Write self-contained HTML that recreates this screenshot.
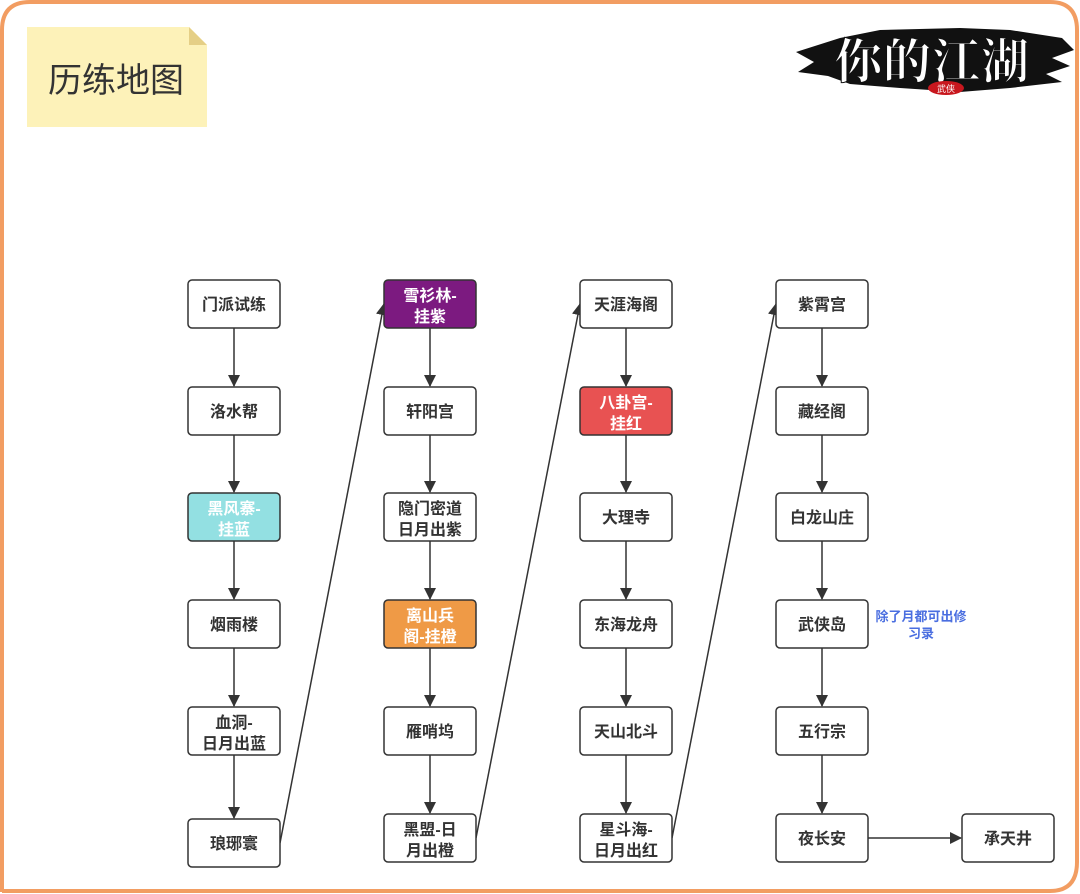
<!DOCTYPE html>
<html><head><meta charset="utf-8"><style>
html,body{margin:0;padding:0;background:#fff;}
body{width:1080px;height:894px;position:relative;overflow:hidden;font-family:"Liberation Sans","Noto Sans CJK SC",sans-serif;}
</style></head><body>
<svg width="1080" height="894" viewBox="0 0 1080 894" xmlns="http://www.w3.org/2000/svg" style="position:absolute;left:0;top:0">
<defs>
<marker id="a" markerWidth="12" markerHeight="12" refX="11" refY="6" orient="auto" markerUnits="userSpaceOnUse">
<path d="M0,0 L12,6 L0,12 z" fill="#333"/>
</marker>
</defs>
<path d="M2,892 L2,30 Q2,2 30,2 L1050,2 Q1077,2 1077,30 L1077,862 Q1077,891 1050,891 L2,891" fill="none" stroke="#f29d62" stroke-width="4"/>
<!-- sticky note -->
<path d="M27,27 L189,27 L207,45 L207,127 L27,127 z" fill="#fdf2b9"/>
<path d="M189,27 L207,45 L189,45 z" fill="#e5cf86"/>
<text x="116" y="92" font-size="34" fill="#333" text-anchor="middle" font-family="Liberation Sans,Noto Sans CJK SC,sans-serif">历练地图</text>
<!-- logo -->
<path d="M796,52 L840,38 L880,30 L960,28 L1010,30 L1062,38 L1074,50 L1052,58 L1070,66 L1046,74 L1062,82 L1010,88 L960,92 L900,88 L850,84 L828,76 L798,72 L814,62 z" fill="#111"/>
<text x="932" y="78" font-size="48" font-weight="bold" fill="#fff" stroke="#111" stroke-width="1" text-anchor="middle" font-family="Noto Serif CJK SC,serif" letter-spacing="1">你的江湖</text>
<ellipse cx="946" cy="88" rx="18" ry="7" fill="#c8171e"/>
<text x="946" y="92" font-size="9" fill="#fff" text-anchor="middle" font-family="Noto Sans CJK SC,sans-serif">武侠</text>
<!-- connectors -->
<g stroke="#333" stroke-width="1.5" marker-end="url(#a)">
<line x1="234" y1="328" x2="234" y2="386"/>
<line x1="234" y1="435" x2="234" y2="492"/>
<line x1="234" y1="541" x2="234" y2="599"/>
<line x1="234" y1="648" x2="234" y2="706"/>
<line x1="234" y1="755" x2="234" y2="818"/>
<line x1="430" y1="328" x2="430" y2="386"/>
<line x1="430" y1="435" x2="430" y2="492"/>
<line x1="430" y1="541" x2="430" y2="599"/>
<line x1="430" y1="648" x2="430" y2="706"/>
<line x1="430" y1="755" x2="430" y2="813"/>
<line x1="626" y1="328" x2="626" y2="386"/>
<line x1="626" y1="435" x2="626" y2="492"/>
<line x1="626" y1="541" x2="626" y2="599"/>
<line x1="626" y1="648" x2="626" y2="706"/>
<line x1="626" y1="755" x2="626" y2="813"/>
<line x1="822" y1="328" x2="822" y2="386"/>
<line x1="822" y1="435" x2="822" y2="492"/>
<line x1="822" y1="541" x2="822" y2="599"/>
<line x1="822" y1="648" x2="822" y2="706"/>
<line x1="822" y1="755" x2="822" y2="813"/>
<line x1="868" y1="838" x2="961" y2="838"/>
<line x1="280" y1="843" x2="384" y2="304"/>
<line x1="476" y1="838" x2="580" y2="304"/>
<line x1="672" y1="838" x2="776" y2="304"/>
</g>
<!-- nodes -->
<g stroke="#333" stroke-width="1.5">
<rect x="188" y="280" width="92" height="48" rx="4" fill="#fff"/>
<rect x="188" y="387" width="92" height="48" rx="4" fill="#fff"/>
<rect x="188" y="493" width="92" height="48" rx="4" fill="#93e0e2"/>
<rect x="188" y="600" width="92" height="48" rx="4" fill="#fff"/>
<rect x="188" y="707" width="92" height="48" rx="4" fill="#fff"/>
<rect x="188" y="819" width="92" height="48" rx="4" fill="#fff"/>
<rect x="384" y="280" width="92" height="48" rx="4" fill="#7c1a80"/>
<rect x="384" y="387" width="92" height="48" rx="4" fill="#fff"/>
<rect x="384" y="493" width="92" height="48" rx="4" fill="#fff"/>
<rect x="384" y="600" width="92" height="48" rx="4" fill="#ef9a46"/>
<rect x="384" y="707" width="92" height="48" rx="4" fill="#fff"/>
<rect x="384" y="814" width="92" height="48" rx="4" fill="#fff"/>
<rect x="580" y="280" width="92" height="48" rx="4" fill="#fff"/>
<rect x="580" y="387" width="92" height="48" rx="4" fill="#e85252"/>
<rect x="580" y="493" width="92" height="48" rx="4" fill="#fff"/>
<rect x="580" y="600" width="92" height="48" rx="4" fill="#fff"/>
<rect x="580" y="707" width="92" height="48" rx="4" fill="#fff"/>
<rect x="580" y="814" width="92" height="48" rx="4" fill="#fff"/>
<rect x="776" y="280" width="92" height="48" rx="4" fill="#fff"/>
<rect x="776" y="387" width="92" height="48" rx="4" fill="#fff"/>
<rect x="776" y="493" width="92" height="48" rx="4" fill="#fff"/>
<rect x="776" y="600" width="92" height="48" rx="4" fill="#fff"/>
<rect x="776" y="707" width="92" height="48" rx="4" fill="#fff"/>
<rect x="776" y="814" width="92" height="48" rx="4" fill="#fff"/>
<rect x="962" y="814" width="92" height="48" rx="4" fill="#fff"/>
</g>
<g font-size="16" font-weight="bold" fill="#333" text-anchor="middle" font-family="Liberation Sans,Noto Sans CJK SC,sans-serif">
<text x="234" y="310">门派试练</text>
<text x="234" y="417">洛水帮</text>
<text x="234" y="514" fill="#fff">黑风寨-</text><text x="234" y="535" fill="#fff">挂蓝</text>
<text x="234" y="630">烟雨楼</text>
<text x="234" y="728">血洞-</text><text x="234" y="749">日月出蓝</text>
<text x="234" y="849">琅琊寰</text>
<text x="430" y="301" fill="#fff">雪衫林-</text><text x="430" y="322" fill="#fff">挂紫</text>
<text x="430" y="417">轩阳宫</text>
<text x="430" y="514">隐门密道</text><text x="430" y="535">日月出紫</text>
<text x="430" y="621" fill="#fff">离山兵</text><text x="430" y="642" fill="#fff">阁-挂橙</text>
<text x="430" y="737">雁哨坞</text>
<text x="430" y="835">黑盟-日</text><text x="430" y="856">月出橙</text>
<text x="626" y="310">天涯海阁</text>
<text x="626" y="408" fill="#fff">八卦宫-</text><text x="626" y="429" fill="#fff">挂红</text>
<text x="626" y="523">大理寺</text>
<text x="626" y="630">东海龙舟</text>
<text x="626" y="737">天山北斗</text>
<text x="626" y="835">星斗海-</text><text x="626" y="856">日月出红</text>
<text x="822" y="310">紫霄宫</text>
<text x="822" y="417">藏经阁</text>
<text x="822" y="523">白龙山庄</text>
<text x="822" y="630">武侠岛</text>
<text x="822" y="737">五行宗</text>
<text x="822" y="844">夜长安</text>
<text x="1008" y="844">承天井</text>
</g>
<g font-size="13" font-weight="bold" fill="#4a6ee0" text-anchor="middle" font-family="Liberation Sans,Noto Sans CJK SC,sans-serif">
<text x="921" y="621">除了月都可出修</text>
<text x="921" y="638">习录</text>
</g>
</svg>
</body></html>
